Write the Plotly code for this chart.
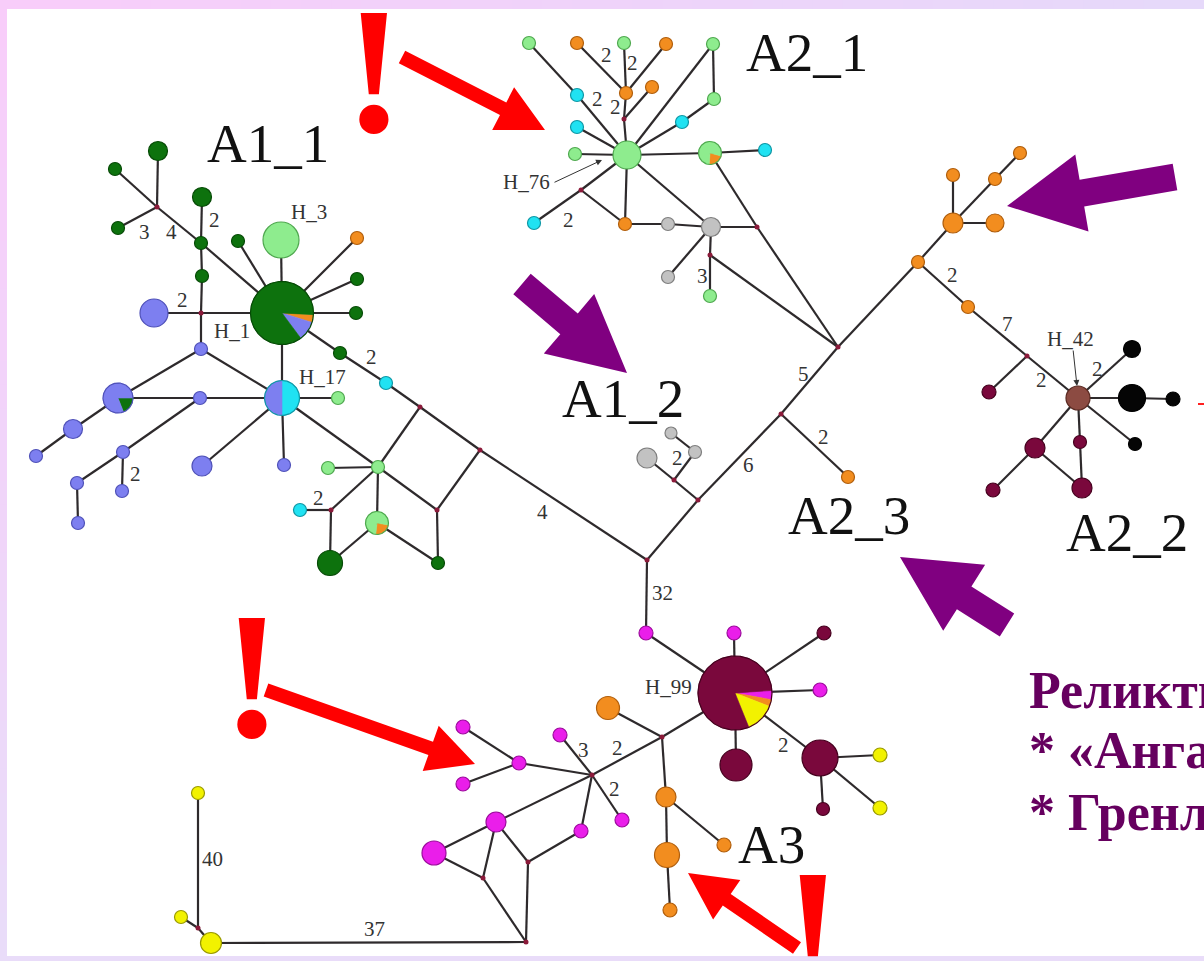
import math
import plotly.graph_objects as go

W, H = 1204, 961

# fill and rim colours of the haplogroup palette
fills = {
    "dg": "#0d720d", "lg": "#8eec8e", "bl": "#7d7ff0", "cy": "#20e2f2",
    "or": "#f28d1f", "gr": "#c2c2c2", "mr": "#7a083c", "mg": "#ea1eea",
    "ye": "#f2f200", "bk": "#050505", "br": "#8c4b42", "med": "#8b1a3a",
}
rims = {
    "dg": "#064a06", "lg": "#4fa84f", "bl": "#4f51b8", "cy": "#0f97a5",
    "or": "#b05e0c", "gr": "#7e7e7e", "mr": "#45001e", "mg": "#9c0c9c",
    "ye": "#9a9a00", "bk": "#000000", "br": "#5a2a22", "med": "#8b1a3a",
}

# ---- haplotypes: (id, group, diameter px, x, y); "med" = median vector ----
cluster_a1_1 = [
    ("c1", "dg", 19, 158, 151), ("c2", "dg", 13, 115, 169), ("k1", "med", 0, 157, 207),
    ("c3", "dg", 13, 118, 228), ("c4", "dg", 19, 202, 197), ("c5", "dg", 13, 201, 243),
    ("c6", "dg", 13, 202, 276), ("k2", "med", 0, 201, 313), ("c7", "bl", 28, 154, 313),
    ("c8", "bl", 13, 201, 349), ("H_3", "lg", 36, 281, 240), ("c9", "dg", 13, 238, 241),
    ("c10", "or", 13, 357, 238), ("c11", "dg", 13, 357, 279), ("c12", "dg", 13, 356, 313),
    ("c13", "dg", 13, 340, 353), ("c14", "cy", 13, 386, 383), ("k3", "med", 0, 420, 407),
    ("k4", "med", 0, 480, 450), ("c15", "lg", 13, 338, 398), ("c17", "bl", 13, 200, 398),
    ("c18", "bl", 19, 73, 429), ("c19", "bl", 13, 36, 456), ("c20", "bl", 13, 123, 452),
    ("c21", "bl", 13, 77, 483), ("c22", "bl", 13, 122, 491), ("c23", "bl", 13, 78, 523),
    ("c24", "bl", 20, 202, 466), ("c25", "bl", 13, 284, 465), ("c26", "lg", 13, 378, 467),
    ("c27", "lg", 13, 328, 468), ("k5", "med", 0, 331, 510), ("c28", "cy", 13, 300, 510),
    ("c29", "dg", 25, 330, 563), ("k6", "med", 0, 437, 510), ("c31", "dg", 13, 438, 563),
]
cluster_a1_2 = [
    ("g1", "gr", 20, 647, 458), ("g2", "gr", 13, 695, 452), ("g3", "gr", 12, 671, 433),
    ("k7", "med", 0, 674, 480),
]
cluster_a2_1 = [
    ("H_76", "lg", 28, 627, 155), ("a1", "lg", 13, 529, 43), ("a2", "or", 13, 577, 43),
    ("a3", "lg", 13, 624, 43), ("a4", "or", 13, 666, 44), ("a5", "lg", 13, 713, 44),
    ("a6", "cy", 13, 577, 95), ("a7", "or", 13, 626, 93), ("a8", "or", 13, 652, 87),
    ("k8", "med", 0, 624, 119), ("a9", "lg", 13, 714, 99), ("a10", "cy", 13, 682, 122),
    ("a11", "cy", 13, 577, 127), ("a12", "lg", 13, 575, 154), ("a14", "cy", 13, 765, 150),
    ("k9", "med", 0, 581, 190), ("a15", "cy", 13, 534, 223), ("a16", "or", 13, 625, 224),
    ("a17", "gr", 13, 668, 224), ("a18", "gr", 19, 711, 227), ("k10", "med", 0, 757, 227),
    ("k11", "med", 0, 710, 255), ("a19", "gr", 13, 668, 277), ("a20", "lg", 13, 710, 296),
]
cluster_a2_3 = [
    ("o1", "or", 13, 918, 262), ("o2", "or", 13, 848, 477), ("o3", "or", 20, 953, 223),
    ("o4", "or", 13, 953, 175), ("o5", "or", 13, 995, 179), ("o6", "or", 13, 1020, 153),
    ("o7", "or", 18, 995, 223), ("o8", "or", 13, 968, 307),
]
cluster_a2_2 = [
    ("k12", "med", 0, 1027, 356), ("r1", "mr", 14, 989, 392), ("H_42", "br", 24, 1078, 398),
    ("b1", "bk", 17, 1132, 349), ("b2", "bk", 27, 1132, 398), ("b3", "bk", 14, 1173, 399),
    ("b4", "bk", 13, 1135, 444), ("r2", "mr", 13, 1080, 442), ("r3", "mr", 20, 1082, 488),
    ("r4", "mr", 20, 1035, 448), ("r5", "mr", 14, 993, 490),
]
cluster_a3 = [
    ("p1", "mg", 14, 646, 633), ("p2", "mg", 14, 734, 633), ("p3", "mr", 14, 824, 633),
    ("p4", "mg", 14, 820, 690), ("p5", "or", 23, 608, 708), ("k13", "med", 0, 662, 737),
    ("p6", "mr", 32, 736, 765), ("p7", "mr", 36, 820, 758), ("p8", "ye", 14, 880, 755),
    ("p9", "ye", 14, 880, 808), ("p10", "mr", 13, 823, 809), ("p11", "or", 20, 666, 797),
    ("p12", "or", 14, 724, 845), ("p13", "or", 25, 667, 855), ("p14", "or", 14, 670, 910),
    ("k14", "med", 0, 592, 775), ("q1", "mg", 14, 560, 735), ("q2", "mg", 14, 519, 763),
    ("q3", "mg", 14, 463, 727), ("q4", "mg", 14, 463, 784), ("q5", "mg", 14, 622, 820),
    ("q6", "mg", 14, 581, 831), ("q7", "mg", 20, 496, 822), ("q8", "mg", 24, 434, 853),
    ("k15", "med", 0, 483, 878), ("k16", "med", 0, 528, 862), ("k17", "med", 0, 526, 942),
    ("y1", "ye", 21, 211, 943), ("k18", "med", 0, 198, 928), ("y2", "ye", 13, 181, 917),
    ("y3", "ye", 13, 198, 793),
]
backbone = [
    ("root", "med", 0, 647, 560), ("k19", "med", 0, 698, 500),
    ("k20", "med", 0, 781, 414), ("k21", "med", 0, 838, 347),
]

# ---- mixed haplotypes as pies: (id, x, y, radius, start angle deg, [(group, share %)]) ----
pies = [
    ("H_1", 282, 313, 31.5, -3, [("or", 4), ("bl", 10), ("dg", 86)]),
    ("c16", 118, 398, 15, 0, [("dg", 19), ("bl", 81)]),
    ("H_17", 282, 398, 17.5, 90, [("cy", 50), ("bl", 50)]),
    ("c30", 377, 523, 11.5, -10, [("or", 24), ("lg", 76)]),
    ("a13", 710, 153, 11.5, -15, [("or", 22), ("lg", 78)]),
    ("H_99", 735, 693, 37, 4, [("mg", 4), ("or", 3), ("ye", 13), ("mr", 80)]),
]

# ---- links between haplotypes ----
links_a1_1 = [
    ("c1", "k1"), ("c2", "k1"), ("c3", "k1"), ("k1", "c5"), ("c4", "c5"), ("c5", "c6"),
    ("c6", "k2"), ("k2", "c8"), ("c7", "k2"), ("k2", "H_1"), ("c5", "H_1"), ("H_1", "H_3"),
    ("H_1", "c9"), ("H_1", "c10"), ("H_1", "c11"), ("H_1", "c12"), ("H_1", "c13"),
    ("c13", "c14"), ("c14", "k3"), ("k3", "k4"), ("k4", "root"), ("H_1", "H_17"),
    ("c8", "H_17"), ("c8", "c16"), ("c16", "c17"), ("c17", "H_17"), ("c16", "c18"),
    ("c18", "c19"), ("c17", "c20"), ("c20", "c21"), ("c21", "c23"), ("c20", "c22"),
    ("H_17", "c24"), ("H_17", "c25"), ("H_17", "c15"), ("H_17", "c26"), ("c26", "k6"),
    ("k3", "c26"), ("k4", "k6"), ("k6", "c31"), ("c26", "c27"), ("c26", "k5"),
    ("k5", "c28"), ("k5", "c29"), ("c29", "c30"), ("c26", "c30"), ("c30", "c31"),
]
links_a1_2 = [("g1", "k7"), ("k7", "k19"), ("k7", "g2"), ("g2", "g3")]
links_a2_1 = [
    ("a1", "a6"), ("a6", "H_76"), ("a2", "a7"), ("a3", "a7"), ("a4", "a7"), ("a7", "k8"),
    ("a8", "k8"), ("k8", "H_76"), ("H_76", "a5"), ("a5", "a9"), ("a9", "a10"),
    ("a10", "H_76"), ("H_76", "a11"), ("H_76", "a12"), ("H_76", "a13"), ("a13", "a14"),
    ("H_76", "k9"), ("k9", "a15"), ("k9", "a16"), ("H_76", "a16"), ("a16", "a17"),
    ("a17", "a18"), ("H_76", "a18"), ("a18", "k10"), ("a18", "k11"), ("k11", "a20"),
    ("a18", "a19"), ("k11", "k21"), ("a13", "k10"), ("k10", "k21"),
]
links_trunk = [
    ("root", "k19"), ("k19", "k20"), ("k20", "k21"), ("k21", "o1"), ("k20", "o2"),
    ("root", "p1"),
]
links_a2_3 = [("o1", "o3"), ("o3", "o4"), ("o3", "o5"), ("o5", "o6"), ("o3", "o7"), ("o1", "o8")]
links_a2_2 = [
    ("o8", "k12"), ("k12", "r1"), ("k12", "H_42"), ("H_42", "b1"), ("H_42", "b2"),
    ("b2", "b3"), ("H_42", "b4"), ("H_42", "r2"), ("r2", "r3"), ("H_42", "r4"),
    ("r4", "r5"), ("r4", "r3"),
]
links_a3 = [
    ("p1", "H_99"), ("H_99", "p2"), ("H_99", "p3"), ("H_99", "p4"), ("H_99", "p6"),
    ("H_99", "p7"), ("p7", "p8"), ("p7", "p9"), ("p7", "p10"), ("H_99", "k13"),
    ("k13", "p5"), ("k13", "p11"), ("p11", "p12"), ("p11", "p13"), ("p13", "p14"),
    ("k13", "k14"), ("k14", "q1"), ("k14", "q5"), ("k14", "q2"), ("q2", "q3"),
    ("q2", "q4"), ("k14", "q7"), ("k14", "q6"), ("q7", "q8"), ("q7", "k15"),
    ("q8", "k15"), ("q7", "k16"), ("k16", "q6"), ("k15", "k17"), ("k16", "k17"),
    ("k17", "y1"), ("y1", "k18"), ("k18", "y2"), ("k18", "y3"),
]

# ---- mutation counts on links and haplotype tags ----
steps = [
    ("3", 144, 232), ("4", 171, 232), ("2", 214, 220), ("2", 182, 300), ("2", 371, 357),
    ("2", 135, 474), ("2", 318, 498), ("4", 542, 512), ("2", 677, 458), ("32", 662, 593),
    ("6", 748, 465), ("5", 803, 374), ("2", 823, 437),
    ("2", 606, 55), ("2", 632, 63), ("2", 597, 99), ("2", 615, 107), ("2", 568, 220),
    ("3", 702, 276), ("2", 952, 275), ("7", 1007, 324), ("2", 1041, 380), ("2", 1097, 369),
    ("2", 783, 745), ("3", 583, 750), ("2", 617, 748), ("2", 614, 789),
    ("40", 212, 859), ("37", 374, 929),
]
hap_tags = [
    ("H_3", 309, 212), ("H_1", 232, 331), ("H_17", 322, 377), ("H_76", 526, 182),
    ("H_42", 1070, 339), ("H_99", 668, 687),
]
tag_pointers = [((553, 183), (602, 160)), ((1073, 349), (1077, 386))]
cluster_names = [
    ("A1_1", 268, 143), ("A1_2", 623, 398), ("A2_1", 807, 52),
    ("A2_3", 849, 515), ("A2_2", 1127, 532), ("A3", 771, 844),
]
note_lines = [("Реликты", 690), ("* «Ангарский»", 750), ("* Гренландский", 812)]
exclaims = [(374, 70), (252, 675), (813, 932)]
red_arrows = [((402, 57), (545, 130)), ((266, 690), (475, 764)), ((797, 948), (688, 873))]
purple_arrows = [((1175, 177), (1007, 206)), ((522, 284), (627, 373)), ((1007, 625), (900, 557))]

all_nodes = cluster_a1_1 + cluster_a1_2 + cluster_a2_1 + cluster_a2_3 + cluster_a2_2 + cluster_a3 + backbone
pos = {n[0]: (n[3], n[4]) for n in all_nodes}
for p in pies:
    pos[p[0]] = (p[1], p[2])
all_links = links_a1_1 + links_a1_2 + links_a2_1 + links_trunk + links_a2_3 + links_a2_2 + links_a3

fig = go.Figure()

# links
ex, ey = [], []
for a, b in all_links:
    ex += [pos[a][0], pos[b][0], None]
    ey += [pos[a][1], pos[b][1], None]
fig.add_trace(go.Scatter(x=ex, y=ey, mode="lines", hoverinfo="skip",
                         line=dict(color="#2e2a2c", width=2.2)))

# median vectors
meds = [n for n in all_nodes if n[1] == "med"]
fig.add_trace(go.Scatter(x=[n[3] for n in meds], y=[n[4] for n in meds], mode="markers",
                         hoverinfo="skip",
                         marker=dict(size=5, color=fills["med"], line=dict(width=0))))

# single-group haplotypes
haps = [n for n in all_nodes if n[1] != "med"]
fig.add_trace(go.Scatter(
    x=[n[3] for n in haps], y=[n[4] for n in haps], mode="markers", hoverinfo="skip",
    marker=dict(size=[n[2] for n in haps], color=[fills[n[1]] for n in haps], opacity=1,
                line=dict(width=1.2, color=[rims[n[1]] for n in haps]))))


def arc_points(cx, cy, r, a0, a1, step=2.0):
    n = max(2, int(abs(a1 - a0) / step) + 1)
    xs, ys = [], []
    for i in range(n + 1):
        a = math.radians(a0 + (a1 - a0) * i / n)
        xs.append(cx + r * math.cos(a))
        ys.append(cy - r * math.sin(a))
    return xs, ys


# mixed haplotypes as pies
for pid, cx, cy, r, start, parts in pies:
    a = start
    for grp, share in parts:
        a_end = a - share * 3.6
        xs, ys = arc_points(cx, cy, r, a, a_end)
        fig.add_trace(go.Scatter(x=[cx] + xs + [cx], y=[cy] + ys + [cy], mode="lines",
                                 fill="toself", fillcolor=fills[grp], hoverinfo="skip",
                                 line=dict(color=fills[grp], width=0.6)))
        a = a_end
    main = max(parts, key=lambda t: t[1])[0]
    xs, ys = arc_points(cx, cy, r, 0, 360)
    fig.add_trace(go.Scatter(x=xs, y=ys, mode="lines", hoverinfo="skip",
                             line=dict(color=rims[main], width=1.2)))

# small right-edge mark
fig.add_trace(go.Scatter(x=[1198, 1204], y=[404, 404], mode="lines", hoverinfo="skip",
                         line=dict(color="#ff2020", width=2)))


def arrow_path(p0, p1, shaft, head_w, head_len):
    (x0, y0), (x1, y1) = p0, p1
    L = math.hypot(x1 - x0, y1 - y0)
    ux, uy = (x1 - x0) / L, (y1 - y0) / L
    px, py = -uy, ux
    bx, by = x1 - ux * head_len, y1 - uy * head_len
    pts = [
        (x0 + px * shaft / 2, y0 + py * shaft / 2),
        (bx + px * shaft / 2, by + py * shaft / 2),
        (bx + px * head_w / 2, by + py * head_w / 2),
        (x1, y1),
        (bx - px * head_w / 2, by - py * head_w / 2),
        (bx - px * shaft / 2, by - py * shaft / 2),
        (x0 - px * shaft / 2, y0 - py * shaft / 2),
    ]
    return "M " + " L ".join(f"{x:.1f},{y:.1f}" for x, y in pts) + " Z"


def mix(c1, c2, t):
    a = [int(c1[i:i + 2], 16) for i in (1, 3, 5)]
    b = [int(c2[i:i + 2], 16) for i in (1, 3, 5)]
    return "#" + "".join(f"{round(a[i] + (b[i] - a[i]) * t):02x}" for i in range(3))


shapes = []
pink, lav = "#f8cdfa", "#e6d9fa"
N = 40
for i in range(N):
    t = i / (N - 1)
    shapes.append(dict(type="rect", xref="x", yref="y", layer="below",
                       x0=W * i / N, x1=W * (i + 1) / N + 1, y0=0, y1=9,
                       fillcolor=mix(pink, lav, t), line=dict(width=0)))
    shapes.append(dict(type="rect", xref="x", yref="y", layer="below",
                       x0=0, x1=7, y0=H * i / N, y1=H * (i + 1) / N + 1,
                       fillcolor=mix(pink, "#e9dcf9", t), line=dict(width=0)))
shapes.append(dict(type="rect", xref="x", yref="y", layer="below", x0=7, x1=W, y0=956, y1=H,
                   fillcolor="#e9dcf9", line=dict(width=0)))

for p0, p1 in red_arrows:
    shapes.append(dict(type="path", xref="x", yref="y", layer="above",
                       path=arrow_path(p0, p1, 14, 48, 47),
                       fillcolor="#ff0000", line=dict(width=0)))
for p0, p1 in purple_arrows:
    shapes.append(dict(type="path", xref="x", yref="y", layer="above",
                       path=arrow_path(p0, p1, 27, 78, 76),
                       fillcolor="#800080", line=dict(width=0)))

annotations = []
serif = "Liberation Serif"
for s, x, y in steps:
    annotations.append(dict(x=x, y=y, xref="x", yref="y", text=s, showarrow=False,
                            font=dict(family=serif, size=21, color="#333333")))
for s, x, y in hap_tags:
    annotations.append(dict(x=x, y=y, xref="x", yref="y", text=s, showarrow=False,
                            font=dict(family=serif, size=21, color="#333333")))
for (tx, ty), (hx, hy) in tag_pointers:
    annotations.append(dict(x=hx, y=hy, ax=tx, ay=ty, xref="x", yref="y", axref="x", ayref="y",
                            text="", showarrow=True, arrowhead=2, arrowsize=1.2,
                            arrowwidth=1, arrowcolor="#333333"))
for s, x, y in cluster_names:
    annotations.append(dict(x=x, y=y, xref="x", yref="y", text=s, showarrow=False,
                            font=dict(family=serif, size=55, color="#111111")))
for x, y in exclaims:
    annotations.append(dict(x=x, y=y, xref="x", yref="y", text="<b>!</b>", showarrow=False,
                            font=dict(family=serif, size=180, color="#ff0000")))
for s, y in note_lines:
    annotations.append(dict(x=1027, y=y, xref="x", yref="y", text=f"<b>{s}</b>",
                            showarrow=False, xanchor="left",
                            font=dict(family=serif, size=52, color="#66005f")))

fig.update_layout(
    width=W, height=H, autosize=False,
    margin=dict(l=0, r=0, t=0, b=0, pad=0),
    paper_bgcolor="white", plot_bgcolor="white",
    showlegend=False,
    xaxis=dict(range=[0, W], visible=False, fixedrange=True),
    yaxis=dict(range=[H, 0], visible=False, fixedrange=True),
    shapes=shapes, annotations=annotations,
)

fig.write_html("out.html", config={"displayModeBar": False},
               post_script="document.body.style.margin='0';")
